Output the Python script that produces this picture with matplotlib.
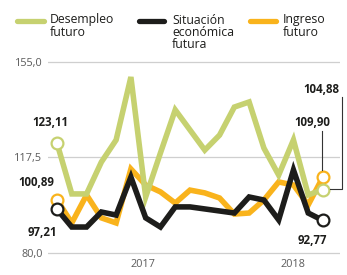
import numpy as np
import matplotlib
matplotlib.use("Agg")
import matplotlib.pyplot as plt
from matplotlib.lines import Line2D
from matplotlib.transforms import IdentityTransform

plt.rcParams['font.family'] = ['Open Sans', 'DejaVu Sans']

# Data, one point per period
desempleo = [123.11, 103.2, 103.2, 115.7, 124.4, 149.1, 102.0, 119.3, 136.2, 128.3,
             120.4, 126.3, 137.3, 139.3, 121.2, 110.6, 124.4, 102.8, 104.88]
situacion = [97.21, 90.2, 90.2, 96.1, 94.9, 109.8, 93.8, 90.2, 98.1, 98.1,
             97.3, 96.5, 95.7, 102.0, 100.8, 93.0, 112.6, 95.7, 92.77]
ingreso = [100.89, 91.8, 102.8, 93.8, 91.8, 113.0, 106.7, 104.0, 99.6, 104.7,
           103.6, 101.6, 95.3, 95.7, 100.8, 107.9, 106.7, 98.9, 109.90]
year_ticks = [5.85, 15.95]
year_labels = ['2017', '2018']
y_ticks = [80.0, 117.5, 155.0]
y_labels = ['80,0', '117,5', '155,0']

GREEN = '#c6d170'
BLACK = '#1d1d1b'
ORANGE = '#f9b31c'
GRID = '#cfcfcf'
TXT = '#1d1d1b'
GRAYTXT = '#5a5a5a'

W, H = 347, 275
fig = plt.figure(figsize=(W / 100, H / 100), dpi=100)

def px(x, y):
    return x / W, 1 - y / H

l, b = px(48, 258.1)
r, t = px(340, 56.9)
ax = fig.add_axes([l, b, r - l, t - b])
x = np.arange(len(desempleo))
ax.set_xlim(-0.61, 19.15)
ax.set_ylim(78, 157)
for s in ax.spines.values():
    s.set_visible(False)
for v in y_ticks:
    ax.axhline(v, color=GRID, lw=0.9, zorder=0)
ax.set_yticks(y_ticks)
ax.set_yticklabels(y_labels, color=GRAYTXT, fontsize=7.8)
ax.set_xticks(year_ticks)
ax.set_xticklabels(year_labels, color=GRAYTXT, fontsize=7.8)
ax.tick_params(length=0, pad=4)
ax.tick_params(axis='x', pad=0.5)

lw = 4.0
ax.plot(x, ingreso, color=ORANGE, lw=lw, solid_joinstyle='miter', zorder=2)
ax.plot(x, desempleo, color=GREEN, lw=lw, solid_joinstyle='miter', zorder=3)
ax.plot(x, situacion, color=BLACK, lw=lw, solid_joinstyle='miter', zorder=4)

for series, col in [(ingreso, ORANGE), (desempleo, GREEN), (situacion, BLACK)]:
    ax.plot([x[0], x[-1]], [series[0], series[-1]], 'o', ms=8.5, mfc='white',
            mec=col, mew=1.6, zorder=5, clip_on=False)

def label(i, series, text, dx, dy):
    ax.annotate(text, (x[i], series[i]), xytext=(dx, dy), textcoords='offset pixels',
                ha='center', va='center', fontsize=8.3, fontweight='bold', color=TXT)

label(0, desempleo, '123,11', -7, 21)
label(0, ingreso, '100,89', -21, 17)
label(0, situacion, '97,21', -15, -23)
label(-1, desempleo, '104,88', -2, 100)
label(-1, ingreso, '109,90', -11, 54)
label(-1, situacion, '92,77', -11, -20)

# connector lines for the right-hand labels (pixel coords, y downward)
def seg(pts):
    xs = [p[0] for p in pts]
    ys = [H - p[1] for p in pts]
    fig.add_artist(Line2D(xs, ys, transform=IdentityTransform(), color='#333333', lw=0.8))

seg([(321.5, 131), (321.5, 170)])
seg([(342, 97), (342, 189), (330, 189)])

# legend
for x0, x1, col in [(17, 44, GREEN), (139, 164, BLACK), (250, 276, ORANGE)]:
    fig.add_artist(Line2D([x0 / W, x1 / W], [1 - 21 / H] * 2, color=col, lw=3.8,
                          solid_capstyle='round'))
for x0, txt in [(50, 'Desempleo\nfuturo'), (172, 'Situación\neconómica\nfutura'),
                (283, 'Ingreso\nfuturo')]:
    fig.text(x0 / W, 1 - 13.5 / H, txt, ha='left', va='top', fontsize=8.8,
             color=TXT, linespacing=0.92)

fig.savefig('out.png', dpi=100)
